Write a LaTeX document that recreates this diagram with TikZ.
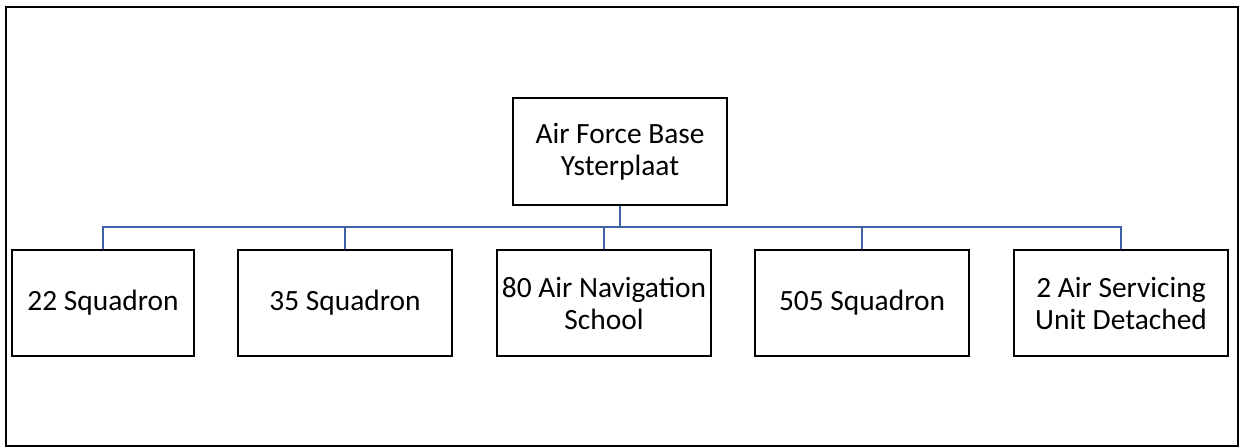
\documentclass[tikz,border=0pt]{standalone}
\usepackage{fontspec}
\setmainfont{Carlito}
\usepackage{tikz}
\usetikzlibrary{positioning}
\definecolor{linkblue}{RGB}{62,98,165}

\begin{document}
\begin{tikzpicture}[
        x=0.5pt, y=-0.5pt,
        hq/.style    = {draw, line width=1.1pt, minimum width=107pt, minimum height=53.5pt,
                        inner sep=1pt, align=center,
                        font=\fontsize{14.7}{16}\selectfont},
        unit/.style  = {draw, line width=1.1pt, minimum width=107pt, minimum height=53pt,
                        inner sep=1pt, align=center,
                        font=\fontsize{14.7}{16}\selectfont},
        trunk/.style = {draw=linkblue, line width=1.1pt},
        link/.style  = {draw=linkblue, line width=0.8pt},
    ]
        % ---- marco exterior ----
        \useasboundingbox (0,0) rectangle (1242,448);
        \draw[line width=1.2pt] (6,7) rectangle (1238,446);

        % ---- nodos: base arriba, unidades en una fila ----
        \node (base) [hq]   at (620,  151.5) {Air Force Base\\Ysterplaat};
        \node (sq22) [unit, minimum width=91pt] at (103, 303) {22 Squadron};
        \node (sq35) [unit] at (345,  303) {35 Squadron};
        \node (ans80) [unit] at (604, 303) {80 Air Navigation\\School};
        \node (sq505) [unit] at (862, 303) {505 Squadron};
        \node (asu2) [unit] at (1121, 303) {2 Air Servicing\\Unit Detached};

        % ---- barra de conexion ----
        \coordinate (bus) at (620, 227);
        \draw[trunk] (base.south) -- (bus);
        \draw[link] (bus) -| (sq22.north);
        \draw[link] (bus) -| (sq35.north);
        \draw[link] (bus) -| (ans80.north);
        \draw[link] (bus) -| (sq505.north);
        \draw[link] (bus) -| (asu2.north);
    \end{tikzpicture}
\end{document}
